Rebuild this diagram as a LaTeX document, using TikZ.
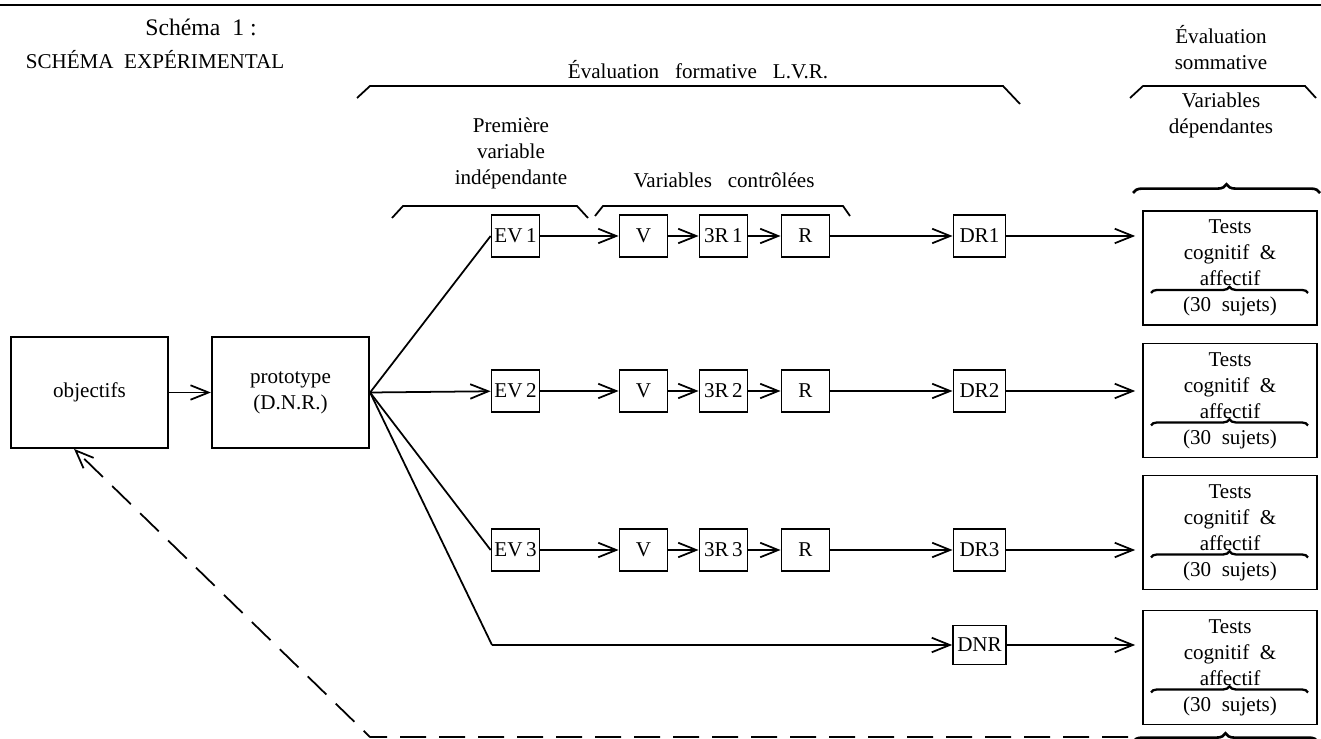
\documentclass[tikz,border=0pt]{standalone}
\usepackage{fontspec}
\setmainfont{Liberation Serif}
\usepackage{tikz}
\usetikzlibrary{arrows.meta,positioning,calc,decorations.pathreplacing}

\begin{document}
\begin{tikzpicture}[x=0.02cm,y=-0.02cm,on grid,line width=1pt,
  >={Straight Barb[length=3.6mm,width=2.9mm]},
  font=\fontsize{12}{14.8}\selectfont,
  sbox/.style={draw,inner sep=1pt,minimum width=0.96cm,minimum height=0.85cm},
  bigbox/.style={draw,align=center,minimum width=3.15cm,minimum height=2.22cm},
  testbox/.style={draw,align=center,minimum width=3.48cm,minimum height=2.28cm},
  lbl/.style={align=center,inner sep=0pt},
  hbrace/.style={decorate,decoration={brace,amplitude=5pt},line width=1.5pt},
  ibrace/.style={decorate,decoration={brace,amplitude=3.5pt},line width=1.3pt}]
  \useasboundingbox (0,0) rectangle (1321,739);
  \draw[line width=1.5pt] (0,5) -- (1321,5);
  % titres
  \node[lbl,font=\fontsize{13.5}{15}\selectfont] (schema) at (201,27) {Schéma\ \ 1 :};
  \node[lbl,font=\fontsize{12}{15}\selectfont] (titre) at (155,60) {SCHÉMA\ \ EXPÉRIMENTAL};
  \node[lbl] (form) at (698,70) {Évaluation\ \ \ formative\ \ \ L.V.R.};
  \node[lbl] (somm) at (1221,48) {Évaluation\\sommative};
  \node[lbl] (dep) at (1221,115) {Variables\\dépendantes};
  \node[lbl] (prem) at (511,153) {Première\\variable\\indépendante};
  \node[lbl] (ctrl) at (724,180) {Variables\ \ \ contrôlées};
  % crochets
  \draw (357,98) -- (370,86) -- (1003,86) -- (1020,104);
  \draw (1130,98) -- (1143,86) -- (1305,86) -- (1316,98);
  \draw (392,218) -- (403,206) -- (577,206) -- (588,218);
  \draw (595,216) -- (603,206) -- (843,206) -- (850,216);
  \draw[hbrace] (1133,193) -- (1320,193);
  \draw[hbrace] (1133,742) -- (1318,742);
  % boites
  \node[bigbox] (obj) at (89.5,392.5) {objectifs};
  \node[bigbox] (proto) [right=4.02cm of obj] {prototype\\(D.N.R.)};
  \node[sbox] (ev1) at (515.5,236) {EV\,1};
  \node[sbox] (v1) [right=2.56cm of ev1] {V};
  \node[sbox] (rr1) [right=1.6cm of v1] {3R\,1};
  \node[sbox] (r1) [right=1.64cm of rr1] {R};
  \node[sbox,minimum width=1.04cm] (dr1) [right=3.48cm of r1] {DR1};
  \node[sbox] (ev2) at (515.5,391) {EV\,2};
  \node[sbox] (v2) [right=2.56cm of ev2] {V};
  \node[sbox] (rr2) [right=1.6cm of v2] {3R\,2};
  \node[sbox] (r2) [right=1.64cm of rr2] {R};
  \node[sbox,minimum width=1.04cm] (dr2) [right=3.48cm of r2] {DR2};
  \node[sbox] (ev3) at (515.5,550) {EV\,3};
  \node[sbox] (v3) [right=2.56cm of ev3] {V};
  \node[sbox] (rr3) [right=1.6cm of v3] {3R\,3};
  \node[sbox] (r3) [right=1.64cm of rr3] {R};
  \node[sbox,minimum width=1.04cm] (dr3) [right=3.48cm of r3] {DR3};
  \coordinate (c4) at (492,645);
  \node[sbox,minimum width=1.06cm,minimum height=0.78cm] (dnr) at (979.5,645) {DNR};
  \node[testbox] (t1) at (1230,268) {Tests\\cognitif\ \ \&\\affectif\\(30\ \ sujets)};
  \node[testbox] (t2) at (1230,400.5) {Tests\\cognitif\ \ \&\\affectif\\(30\ \ sujets)};
  \node[testbox] (t3) at (1230,532.5) {Tests\\cognitif\ \ \&\\affectif\\(30\ \ sujets)};
  \node[testbox] (t4) at (1230,667.5) {Tests\\cognitif\ \ \&\\affectif\\(30\ \ sujets)};
  \foreach \t in {t1,t2,t3,t4}
    \draw[ibrace] ([xshift=-1.58cm,yshift=-0.5cm]\t.center) -- ([xshift=1.56cm,yshift=-0.5cm]\t.center);
  % fleches
  \path[->] (obj) edge (proto);
  \path (proto.east) edge (ev1.west) edge[->] (ev2) edge (ev3.west) edge (c4);
  \path[->] (ev1) edge (v1) (v1) edge (rr1) (rr1) edge (r1) (r1) edge (dr1)
    (ev2) edge (v2) (v2) edge (rr2) (rr2) edge (r2) (r2) edge (dr2)
    (ev3) edge (v3) (v3) edge (rr3) (rr3) edge (r3) (r3) edge (dr3)
    (c4) edge (dnr);
  \path[->,shorten >=4pt] (dr1) edge (dr1 -| t1.west) (dr2) edge (dr2 -| t2.west)
    (dr3) edge (dr3 -| t3.west) (dnr) edge (dnr -| t4.west);
  % retour
  \coordinate (fb) at (1128,737);
  \coordinate (fc) at (370,737);
  \draw[->,dash pattern=on 0.52cm off 0.26cm] (fb) -- (fc) -- ([xshift=-0.31cm]obj.south);
\end{tikzpicture}
\end{document}
